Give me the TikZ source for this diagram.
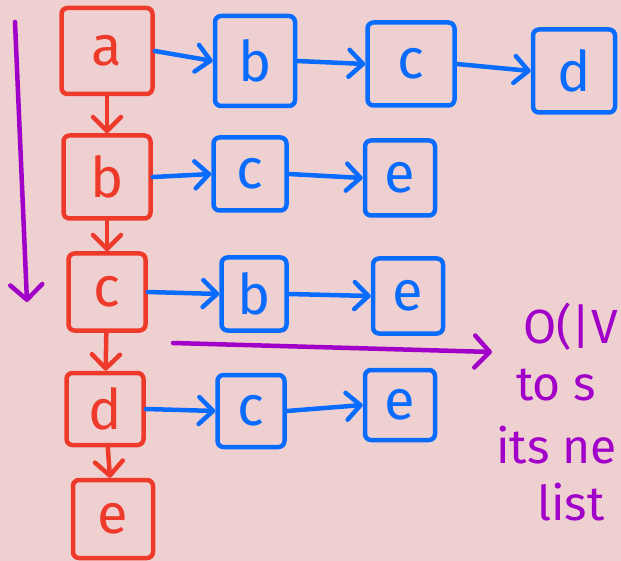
\documentclass[tikz,border=0pt]{standalone}
\usepackage{fontspec}
\setmainfont{Fira Sans}
\usetikzlibrary{arrows.meta}
\definecolor{bgpink}{HTML}{EFD0D1}
\definecolor{hred}{HTML}{EE3A2A}
\definecolor{hblue}{HTML}{0A6CFF}
\definecolor{hpurple}{HTML}{A000C8}
\tikzset{
  redbox/.style={draw=hred, text=hred, line width=4.5pt, rounded corners=6pt, inner sep=0pt,
    font=\fontsize{56}{56}\selectfont},
  bluebox/.style={draw=hblue, text=hblue, line width=4.5pt, rounded corners=6pt, inner sep=0pt,
    font=\fontsize{56}{56}\selectfont},
  redarrow/.style={draw=hred, line width=4.5pt, line cap=round, -{Straight Barb[length=14pt,width=28pt,round]}},
  bluearrow/.style={draw=hblue, line width=4.5pt, line cap=round, -{Straight Barb[length=14pt,width=27pt,round]}},
  purplearrow/.style={draw=hpurple, line width=4.5pt, line cap=round, -{Straight Barb[length=15pt,width=32pt,round]}},
  note/.style={text=hpurple, anchor=base west, inner sep=0pt, font=\fontsize{48}{48}\selectfont}
}
\begin{document}
\begin{tikzpicture}[x=1pt,y=-1pt]
\useasboundingbox (0,0) rectangle (621,561);
\fill[bgpink] (0,0) rectangle (621,561);
% red column
\node[redbox, minimum width=91pt, minimum height=86pt] (a) at (107,51) {a};
\node[redbox, minimum width=87pt, minimum height=83pt] (rb) at (107,177) {b};
\node[redbox, minimum width=77pt, minimum height=77pt] (rc) at (107,292) {c};
\node[redbox, minimum width=77pt, minimum height=72pt] (rd) at (105,409) {d};
\node[redbox, minimum width=80pt, minimum height=78pt] (re) at (113,519) {e};
% blue lists
\node[bluebox, minimum width=80pt, minimum height=90pt] (b1) at (255,61) {b};
\node[bluebox, minimum width=87pt, minimum height=83pt] (c1) at (411,64) {c};
\node[bluebox, minimum width=82pt, minimum height=83pt] (d1) at (574,71) {d};
\node[bluebox, minimum width=73pt, minimum height=73pt] (c2) at (250,174) {c};
\node[bluebox, minimum width=70pt, minimum height=75pt] (e2) at (400,178) {e};
\node[bluebox, minimum width=65pt, minimum height=73pt] (b3) at (254,294) {b};
\node[bluebox, minimum width=70pt, minimum height=75pt] (e3) at (408,296) {e};
\node[bluebox, minimum width=67pt, minimum height=72pt] (c4) at (251,411) {c};
\node[bluebox, minimum width=70pt, minimum height=70pt] (e4) at (400,405) {e};
% red arrows
\draw[redarrow] (a) -- (rb);
\draw[redarrow] (rb) -- (rc);
\draw[redarrow] (rc) -- (rd);
\draw[redarrow] (rd) -- (re);
% blue arrows
\draw[bluearrow] (a.east) -- (b1.west);
\draw[bluearrow] (b1.east) -- (c1.west);
\draw[bluearrow] (c1.east) -- (d1.west);
\draw[bluearrow] (rb.east) -- (c2.west);
\draw[bluearrow] (c2.east) -- (e2.west);
\draw[bluearrow] (rc.east) -- (b3.west);
\draw[bluearrow] (b3.east) -- (e3.west);
\draw[bluearrow] (rd.east) -- (c4.west);
\draw[bluearrow] (c4.east) -- (e4.west);
% purple
\coordinate (vtop) at (15,22);
\coordinate (vbot) at (27,302);
\coordinate (hl) at (173,343);
\coordinate (hr) at (492,352);
\draw[purplearrow] (vtop) -- (vbot);
\draw[purplearrow] (hl) -- (hr);
\node[note] (t1) at (523,343) {O(|V};
\node[note] (t2) at (516,400) {to s};
\node[note] (t3) at (496,463) {its ne};
\node[note] (t4) at (537,520) {list};
\end{tikzpicture}
\end{document}
